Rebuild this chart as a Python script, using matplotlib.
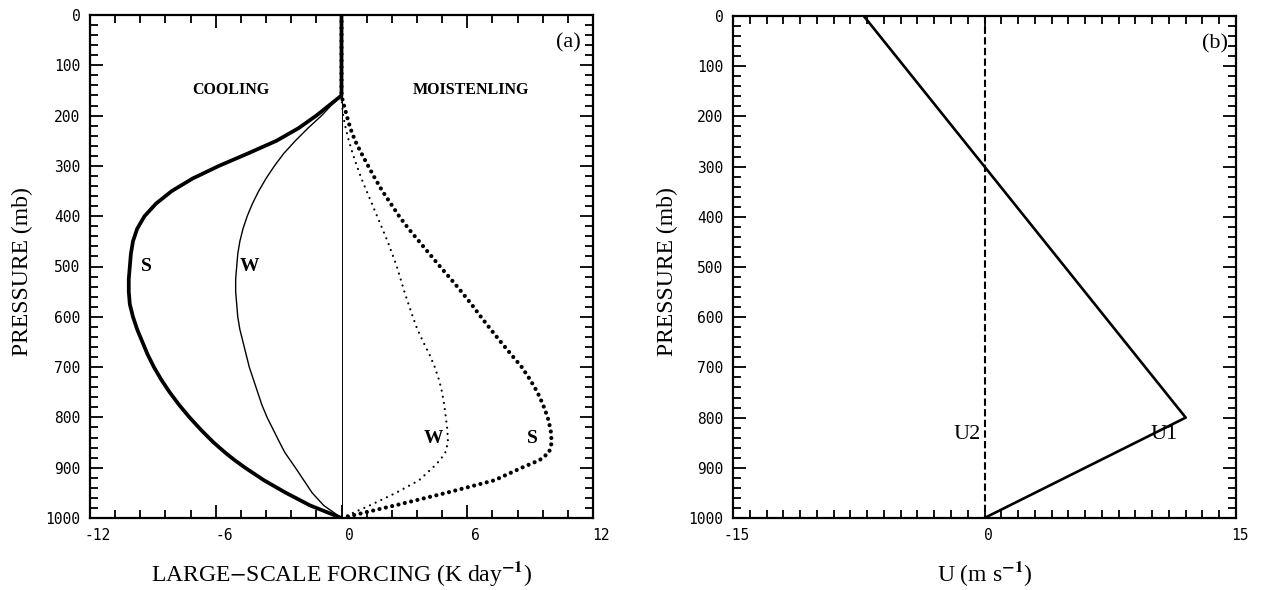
import numpy as np
import matplotlib
matplotlib.use("Agg")
import matplotlib.pyplot as plt
from matplotlib.ticker import FixedLocator, MultipleLocator, FuncFormatter
from matplotlib.transforms import ScaledTranslation

# ---------------- data ----------------
# pressure levels (mb) for the forcing profiles of panel (a)
pressure = [0, 160, 180, 200, 225, 250, 275, 300, 325, 350, 375, 400, 425, 450,
            475, 500, 525, 550, 575, 600, 625, 650, 675, 700, 725, 750, 775,
            800, 825, 850, 870, 885, 900, 925, 950, 975, 1000]
# cooling (K/day), strong (S) and weak (W)
cool_s = [0, 0, -0.6, -1.2, -2.05, -3.1, -4.45, -5.85, -7.1, -8.1, -8.85, -9.4,
          -9.75, -9.95, -10.05, -10.1, -10.15, -10.15, -10.1, -9.95, -9.75,
          -9.5, -9.25, -8.95, -8.6, -8.2, -7.75, -7.25, -6.7, -6.1, -5.55,
          -5.1, -4.6, -3.7, -2.65, -1.5, 0]
cool_w = [0, 0, -0.5, -0.95, -1.6, -2.2, -2.75, -3.2, -3.6, -3.95, -4.25, -4.5,
          -4.7, -4.85, -4.95, -5.0, -5.05, -5.05, -5.0, -4.95, -4.85, -4.7,
          -4.55, -4.4, -4.2, -4.0, -3.8, -3.55, -3.25, -2.95, -2.7, -2.45,
          -2.2, -1.8, -1.4, -0.85, 0]
# moistening (K/day), strong (S) and weak (W)
moist_s = [0, 0, 0.12, 0.25, 0.42, 0.65, 0.95, 1.27, 1.6, 1.95, 2.35, 2.75,
           3.2, 3.7, 4.2, 4.7, 5.22, 5.72, 6.2, 6.65, 7.12, 7.6, 8.1, 8.6,
           9.0, 9.35, 9.62, 9.84, 9.98, 10.03, 9.9, 9.45, 8.6, 7.3, 5.0,
           2.55, 0]
moist_w = [0, 0, 0.03, 0.08, 0.2, 0.35, 0.53, 0.73, 0.95, 1.2, 1.45, 1.7,
           1.95, 2.2, 2.42, 2.64, 2.82, 3.0, 3.2, 3.4, 3.62, 3.9, 4.2, 4.45,
           4.65, 4.8, 4.9, 4.98, 5.05, 5.08, 4.95, 4.7, 4.35, 3.7, 2.6, 1.35, 0]

# panel (b) wind profiles
u1_pressure = [0, 800, 1000]
u1 = [-7.2, 12.0, 0.0]
u2_pressure = [0, 1000]
u2 = [0.0, 0.0]

# axes ticks
a_xticks = [-12, -6, 0, 6, 12]
b_xticks = [-15, 0, 15]
p_ticks = [0, 100, 200, 300, 400, 500, 600, 700, 800, 900, 1000]

# ---------------- style ----------------
plt.rcParams["axes.unicode_minus"] = False
plt.rcParams["mathtext.fontset"] = "stix"
SERIF = "Liberation Serif"
TICKFONT = dict(family="DejaVu Sans Mono", size=10.5)

fig = plt.figure(figsize=(12.62, 5.9), dpi=100)
W, H = 1262.0, 590.0


def make_axes(left, right, top, bottom):
    return fig.add_axes([left / W, 1 - bottom / H, (right - left) / W, (bottom - top) / H])


def style_axes(ax, xmajor, xminor, xlim, xlab_shift):
    ax.set_xlim(*xlim)
    ax.set_ylim(1000, 0)
    ax.xaxis.set_major_locator(FixedLocator(xmajor))
    ax.xaxis.set_minor_locator(MultipleLocator(xminor))
    ax.yaxis.set_major_locator(FixedLocator(p_ticks))
    ax.yaxis.set_minor_locator(MultipleLocator(20))
    ax.tick_params(which="both", direction="in", top=True, right=True,
                   width=1.3, colors="black")
    ax.tick_params(which="major", length=9.5, pad=7)
    ax.tick_params(which="minor", length=5.8)
    for s in ax.spines.values():
        s.set_linewidth(1.6)
    fmt = FuncFormatter(lambda v, pos: "%d" % round(v))
    ax.xaxis.set_major_formatter(fmt)
    ax.yaxis.set_major_formatter(fmt)
    for lab in ax.get_xticklabels() + ax.get_yticklabels():
        lab.set_fontfamily(TICKFONT["family"])
        lab.set_fontsize(TICKFONT["size"])
    off = ScaledTranslation(xlab_shift / 100.0, 0, fig.dpi_scale_trans)
    for lab in ax.get_xticklabels():
        lab.set_transform(lab.get_transform() + off)


# ---------------- panel (a) ----------------
ax1 = make_axes(90, 593, 15, 518)
style_axes(ax1, a_xticks, 1.2, (-12, 12), 8)
ax1.axvline(0, color="black", lw=0.7, zorder=1)
ax1.plot(cool_s, pressure, color="black", lw=2.7, solid_capstyle="round",
         solid_joinstyle="round")
ax1.plot(cool_w, pressure, color="black", lw=1.0)
ax1.plot(moist_s, pressure, color="black", lw=3.0,
         linestyle=(0, (0.01, 1.55)), dash_capstyle="round")
ax1.plot(moist_w, pressure, color="black", lw=1.6,
         linestyle=(0, (0.01, 2.8)), dash_capstyle="round")

ax1.text(-5.3, 150, "COOLING", family=SERIF, weight="bold", fontsize=11.5,
         ha="center", va="center")
ax1.text(6.2, 150, "MOISTENLING", family=SERIF, weight="bold", fontsize=11.5,
         ha="center", va="center")
ax1.text(-9.3, 500, "S", family=SERIF, weight="bold", fontsize=14, ha="center", va="center")
ax1.text(-4.4, 500, "W", family=SERIF, weight="bold", fontsize=14, ha="center", va="center")
ax1.text(4.4, 842, "W", family=SERIF, weight="bold", fontsize=14, ha="center", va="center")
ax1.text(9.1, 842, "S", family=SERIF, weight="bold", fontsize=14, ha="center", va="center")
ax1.text(0.975, 0.945, "(a)", transform=ax1.transAxes, family=SERIF, fontsize=16,
         ha="right", va="center")

ax1.set_ylabel("PRESSURE (mb)", family=SERIF, fontsize=17, va="center")
ax1.yaxis.set_label_coords(-0.135, 0.49)
ax1.set_xlabel(r"LARGE$-$SCALE FORCING (K day$^{\mathbf{-1}}$)", family=SERIF,
               fontsize=17, va="center")
ax1.xaxis.set_label_coords(0.5, -0.111)

# ---------------- panel (b) ----------------
ax2 = make_axes(733, 1236, 16, 518)
style_axes(ax2, b_xticks, 1.0, (-15, 15), 4)
ax2.plot(u1, u1_pressure, color="black", lw=1.9)
ax2.plot(u2, u2_pressure, color="black", lw=1.5, linestyle=(0, (3.5, 1.6)))
ax2.text(-0.25, 833, "U2", family=SERIF, fontsize=16, ha="right", va="center")
ax2.text(11.5, 833, "U1", family=SERIF, fontsize=16, ha="right", va="center")
ax2.text(0.985, 0.945, "(b)", transform=ax2.transAxes, family=SERIF, fontsize=16,
         ha="right", va="center")

ax2.set_ylabel("PRESSURE (mb)", family=SERIF, fontsize=17, va="center")
ax2.yaxis.set_label_coords(-0.131, 0.49)
ax2.set_xlabel(r"U (m s$^{\mathbf{-1}}$)", family=SERIF, fontsize=17, va="center")
ax2.xaxis.set_label_coords(0.5, -0.111)

fig.savefig("out.png", dpi=100, facecolor="white")
